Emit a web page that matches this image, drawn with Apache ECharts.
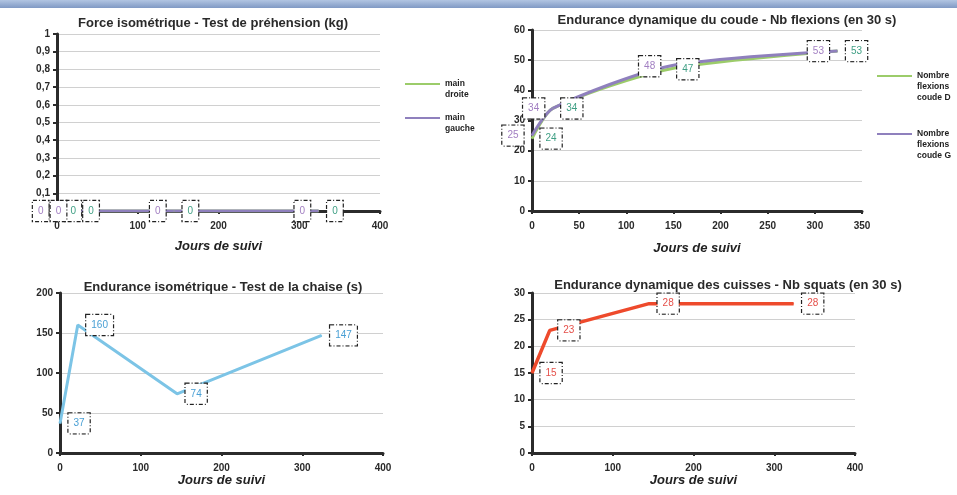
<!DOCTYPE html>
<html>
<head>
<meta charset="utf-8">
<script src="https://cdn.jsdelivr.net/npm/echarts@6/dist/echarts.min.js"></script>
<style>
  html, body { margin: 0; padding: 0; background: #fff; }
  #chart { width: 957px; height: 495px; }
</style>
</head>
<body>
<div id="chart"></div>
<script>
// jours de suivi (communs aux 4 tests)
const jours = [0, 22, 145, 324]

const mainDroite = [0, 0, 0, 0]
const mainGauche = [0, 0, 0, 0]
const flexionsD = [24, 34, 47, 53]
const flexionsG = [25, 34, 48, 53]
const chaise = [37, 160, 74, 147]
const squats = [15, 23, 28, 28]

const titres = [
  'Force isométrique - Test de préhension (kg)',
  'Endurance dynamique du coude - Nb flexions (en 30 s)',
  'Endurance isométrique - Test de la chaise (s)',
  'Endurance dynamique des cuisses - Nb squats (en 30 s)'
]

const FONT = 'Liberation Sans'
const colors = {
  green: '#9ccc6a',
  purple: '#8f80bd',
  blue: '#7cc4e6',
  red: '#ee4a2c'
}
const labelColors = {
  green: '#3f9f84',
  purple: '#a27fc2',
  blue: '#4aa0d5',
  red: '#e5504a'
}

const pairs = (xs, ys) => xs.map((x, i) => [x, ys[i]])

const boxLabel = (color, position) => ({
  show: true,
  position,
  distance: 8,
  color,
  fontFamily: FONT,
  fontSize: 10,
  backgroundColor: '#fff',
  borderColor: '#222',
  borderWidth: 1.2,
  borderType: [4, 2, 1, 2],
  padding: [5, 5]
})

const lineSeries = (name, idx, data, color, labelColor, position, extra) => Object.assign({
  name,
  type: 'line',
  xAxisIndex: idx,
  yAxisIndex: idx,
  data,
  symbol: 'circle',
  symbolSize: 1,
  itemStyle: { color },
  lineStyle: { color, width: 3 },
  label: boxLabel(labelColor, position),
  emphasis: { disabled: true },
  animation: false
}, extra || {})

const grids = [
  { left: 57, top: 34, width: 323, height: 177 },
  { left: 532, top: 30, width: 330, height: 181 },
  { left: 60, top: 293, width: 323, height: 160 },
  { left: 532, top: 293, width: 323, height: 160 }
]

const axisText = { color: '#2a2a2a', fontFamily: FONT, fontSize: 10, fontWeight: 'bold' }

const xAxis = (idx, max, interval, gap) => ({
  type: 'value',
  gridIndex: idx,
  min: 0,
  max,
  interval,
  name: 'Jours de suivi',
  nameLocation: 'middle',
  nameGap: gap,
  nameTextStyle: { color: '#222', fontFamily: FONT, fontSize: 13, fontWeight: 'bold', fontStyle: 'italic' },
  axisLine: { lineStyle: { color: '#2b2b2b', width: 3 } },
  axisTick: { show: true, length: 3, lineStyle: { color: '#2b2b2b', width: 2 } },
  axisLabel: Object.assign({ margin: 10 }, axisText),
  splitLine: { show: false }
})

const yAxis = (idx, max, interval, formatter) => ({
  type: 'value',
  gridIndex: idx,
  min: 0,
  max,
  interval,
  axisLine: { show: true, lineStyle: { color: '#2b2b2b', width: 3 } },
  axisTick: { show: true, length: 4, lineStyle: { color: '#2b2b2b', width: 2 } },
  axisLabel: Object.assign({ margin: 7, formatter }, axisText),
  splitLine: { lineStyle: { color: '#d0d0d0', width: 1 } }
})

const legendNames = {
  'main droite': '\nmain\ndroite',
  'main gauche': '\nmain\ngauche',
  'Nombre flexions coude D': '\n\nNombre\nflexions\ncoude D',
  'Nombre flexions coude G': '\n\nNombre\nflexions\ncoude G'
}

const legend = (names, left, top, gap) => ({
  data: names,
  orient: 'vertical',
  left,
  top,
  padding: 0,
  itemGap: gap,
  itemWidth: 35,
  itemHeight: 2,
  icon: 'rect',
  selectedMode: false,
  formatter: (n) => legendNames[n],
  textStyle: { color: '#222', fontFamily: FONT, fontSize: 8.5, fontWeight: 'bold', lineHeight: 11 }
})

const titleCenters = [[213, 23], [727, 20], [223, 287], [728, 285]]

const option = {
  backgroundColor: '#fff',
  graphic: [{
    type: 'rect',
    shape: { x: 0, y: 0, width: 957, height: 8 },
    style: {
      fill: new echarts.graphic.LinearGradient(0, 0, 0, 1, [
        { offset: 0, color: '#b2c5e2' },
        { offset: 1, color: '#8099c4' }
      ])
    },
    silent: true
  }],
  title: titres.map((t, i) => ({
    text: t,
    left: titleCenters[i][0],
    top: titleCenters[i][1],
    textAlign: 'center',
    textVerticalAlign: 'middle',
    padding: 0,
    textStyle: { color: '#2a2a2a', fontFamily: FONT, fontSize: 13, fontWeight: 'bold' }
  })),
  legend: [
    legend(['main droite', 'main gauche'], 405, 67.5, 1),
    legend(['Nombre flexions coude D', 'Nombre flexions coude G'], 877, 48.5, 3)
  ],
  grid: grids,
  xAxis: [
    xAxis(0, 400, 100, 29),
    xAxis(1, 350, 50, 31),
    xAxis(2, 400, 100, 18),
    xAxis(3, 400, 100, 18)
  ],
  yAxis: [
    yAxis(0, 1, 0.1, (v) => (v === 0 || v === 1) ? String(v) : v.toFixed(1).replace('.', ',')),
    yAxis(1, 60, 10),
    yAxis(2, 200, 50),
    yAxis(3, 30, 5)
  ],
  series: [
    lineSeries('main droite', 0, pairs(jours, mainDroite), colors.green, labelColors.green, 'right'),
    lineSeries('main gauche', 0, pairs(jours, mainGauche), colors.purple, labelColors.purple, 'left'),
    lineSeries('Nombre flexions coude D', 1, pairs(jours, flexionsD), colors.green, labelColors.green, 'right', { smooth: 0.25 }),
    lineSeries('Nombre flexions coude G', 1, pairs(jours, flexionsG), colors.purple, labelColors.purple, 'left', { smooth: 0.25 }),
    lineSeries('chaise', 2, pairs(jours, chaise), colors.blue, labelColors.blue, 'right'),
    lineSeries('squats', 3, pairs(jours, squats), colors.red, labelColors.red, 'right', { lineStyle: { color: colors.red, width: 3.5 } })
  ]
}

const chart = echarts.init(document.getElementById('chart'))
chart.setOption(option)
</script>
</body>
</html>
